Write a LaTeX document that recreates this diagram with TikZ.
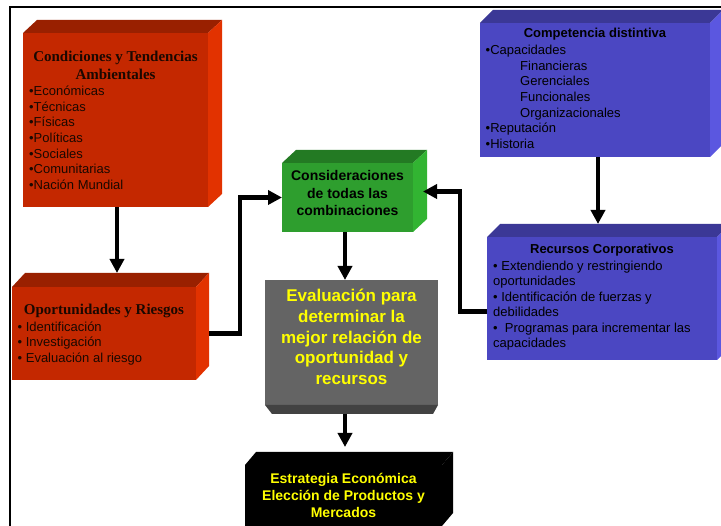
\documentclass[tikz,border=0pt]{standalone}
\usepackage{fontspec}
\setmainfont{Liberation Sans}
\newfontfamily\titleserif{Liberation Serif}
\usetikzlibrary{arrows.meta,calc}

\definecolor{redFront}{HTML}{C42800}
\definecolor{redTop}{HTML}{992000}
\definecolor{redSide}{HTML}{E23200}
\definecolor{bluFront}{HTML}{4B47C2}
\definecolor{bluTop}{HTML}{3B3896}
\definecolor{bluSide}{HTML}{5B57E0}
\definecolor{grnFront}{HTML}{2E9E2E}
\definecolor{grnTop}{HTML}{237A23}
\definecolor{grnSide}{HTML}{32B432}
\definecolor{gryFront}{HTML}{646464}
\definecolor{gryBottom}{HTML}{424242}
\definecolor{txtYellow}{HTML}{FFFF00}
\definecolor{txtDark}{HTML}{1A0800}

% box with visible top and right faces:
% name, north-west corner, width, height, depth x, depth y, front, top, side colours
\newcommand\cube[9]{%
  \node[inner sep=0pt, outer sep=0pt, minimum width=#3, minimum height=#4,
        anchor=north west, fill=#7] (#1) at (#2) {};
  \fill[#8] (#1.north west) -- ++(#5,-#6) -- ([shift={(#5,-#6)}]#1.north east)
            -- (#1.north east) -- cycle;
  \fill[#9] (#1.north east) -- ++(#5,-#6) -- ([shift={(#5,-#6)}]#1.south east)
            -- (#1.south east) -- cycle;
}

\tikzset{
  conn/.style={line width=4.5pt, -{Triangle[width=14pt,length=14pt]}},
  body/.style={font=\fontsize{13}{15.6}\selectfont, inner sep=0pt, anchor=base west},
  ttlserif/.style={font=\titleserif\bfseries\fontsize{15}{18}\selectfont, inner sep=0pt,
                   anchor=base, text=txtDark},
  ttlsans/.style={font=\bfseries\fontsize{13}{15.6}\selectfont, inner sep=0pt, anchor=base},
  midtxt/.style={font=\bfseries\fontsize{14}{17}\selectfont, inner sep=0pt, anchor=base},
  bigtxt/.style={font=\bfseries\fontsize{17}{20.6}\selectfont, inner sep=0pt, anchor=base,
                 text=txtYellow},
}

\begin{document}
\begin{tikzpicture}[x=1pt,y=-1pt]
\useasboundingbox (0,0) rectangle (721,526);
\clip (0,0) rectangle (721,526);

% outer frame
\draw[line width=2pt] (10,7) rectangle (760,560);

% boxes
\cube{amb}{23,33}{185pt}{174pt}{14}{13}{redFront}{redTop}{redSide}
\cube{comp}{480,23}{230pt}{134pt}{13}{13}{bluFront}{bluTop}{bluSide}
\cube{opp}{12,287}{184pt}{93pt}{13}{14}{redFront}{redTop}{redSide}
\cube{rec}{487,237}{230pt}{123pt}{13}{13}{bluFront}{bluTop}{bluSide}
\cube{cons}{282,163}{131pt}{69pt}{14}{13}{grnFront}{grnTop}{grnSide}
\cube{strat}{245,465}{197pt}{61pt}{11}{13}{black}{black}{black}

% evaluation box, seen from below
\node[inner sep=0pt, outer sep=0pt, minimum width=173pt, minimum height=125pt,
      anchor=north west, fill=gryFront] (eval) at (265,280) {};
\fill[gryBottom] (eval.south west) -- (eval.south east) -- ++(-5,9)
      -- ([shift={(7,9)}]eval.south west) -- cycle;

% connector end points
\coordinate (ambOut) at ([xshift=1.5pt]amb.south);
\coordinate (compOut) at ([xshift=3pt]comp.south);
\coordinate (consOut) at ([xshift=-2.5pt]cons.south);
\coordinate (oppTop) at ([yshift=14pt]opp.north);
\coordinate (recTop) at ([yshift=13pt]rec.north);
\coordinate (consR) at ([xshift=10pt,yshift=6pt]cons.east);
\coordinate (evalBot) at ([yshift=-9pt]eval.south);
\coordinate (stratIn) at ([yshift=18pt]strat.north);

% connectors
\draw[conn] (ambOut) -- (ambOut |- oppTop);
\draw[conn] (compOut) -- (compOut |- recTop);
\draw[conn] ([xshift=13pt]opp.east) -| ([xshift=-42pt]cons.west) -- (cons.west);
\draw[conn] ([yshift=-13pt]rec.west) -| ([xshift=37pt]consR) -- (consR);
\draw[conn] (consOut) -- (consOut |- eval.north);
\draw[conn] (consOut |- evalBot) -- (consOut |- stratIn);

% Condiciones y Tendencias Ambientales
\node[ttlserif] (ambT1) at (115.5,61.5) {Condiciones y Tendencias};
\node[ttlserif] (ambT2) at (115.5,80) {Ambientales};
\foreach \txt [count=\i] in {•Económicas,•Técnicas,•Físicas,•Políticas,•Sociales,•Comunitarias,•Nación Mundial}
  \node[body, text=txtDark] (amb\i) at (29,{95.7+15.6*(\i-1)}) {\txt};

% Competencia distintiva
\node[ttlsans] (compT) at (595,38) {Competencia distintiva};
\foreach \xx/\txt [count=\i] in {485.5/•Capacidades,520/Financieras,520/Gerenciales,520/Funcionales,520/Organizacionales,485.5/•Reputación,485.5/•Historia}
  \node[body] (comp\i) at (\xx,{54.7+15.65*(\i-1)}) {\txt};

% Oportunidades y Riesgos
\node[ttlserif] (oppT) at (104,314.3) {Oportunidades y Riesgos};
\foreach \txt [count=\i] in {• Identificación,• Investigación,• Evaluación al riesgo}
  \node[body, text=txtDark] (opp\i) at (17.5,{331.4+15.5*(\i-1)}) {\txt};

% Recursos Corporativos
\node[ttlsans] (recT) at (602,254) {Recursos Corporativos};
\foreach \txt [count=\i] in {• Extendiendo y restringiendo,oportunidades,• Identificación de fuerzas y,debilidades,•\ \ Programas para incrementar las,capacidades}
  \node[body] (rec\i) at (493,{270.4+15.5*(\i-1)}) {\txt};

% Consideraciones
\foreach \txt [count=\i] in {Consideraciones,de todas las,combinaciones}
  \node[midtxt] (cons\i) at (347.5,{181+17.4*(\i-1)}) {\txt};

% Evaluación
\foreach \txt [count=\i] in {Evaluación para,determinar la,mejor relación de,oportunidad y,recursos}
  \node[bigtxt] (eval\i) at (351.5,{302+20.6*(\i-1)}) {\txt};

% Estrategia
\foreach \txt [count=\i] in {Estrategia Económica,Elección de Productos y,Mercados}
  \node[midtxt, text=txtYellow] (strat\i) at (343.5,{483.3+17.2*(\i-1)}) {\txt};
\end{tikzpicture}
\end{document}
